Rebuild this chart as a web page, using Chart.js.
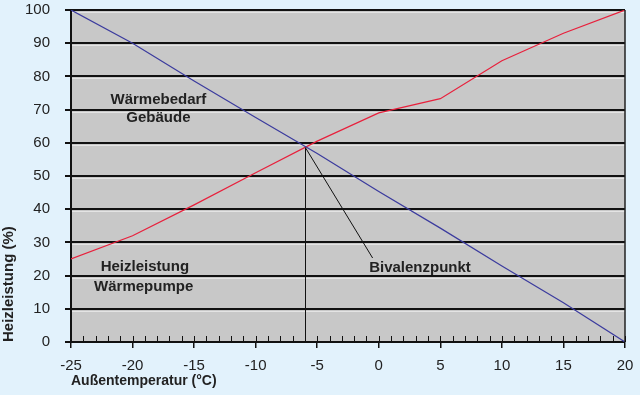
<!DOCTYPE html>
<html>
<head>
<meta charset="utf-8">
<script src="https://cdn.jsdelivr.net/npm/chart.js@4.4.0/dist/chart.umd.min.js"></script>
<style>
  html, body { margin: 0; padding: 0; background: #e2f2fc; }
  canvas { display: block; }
</style>
</head>
<body>
<canvas id="chart" width="640" height="395"></canvas>
<script>
const temperaturen = [-25, -20, -15, -10, -5, 0, 5, 10, 15, 20];
const waermebedarf = [100, 90, 78.6, 67.6, 56.8, 45.3, 34.3, 22.9, 11.8, 0];
const waermepumpe = [25, 32, 41.3, 51, 60.5, 69, 73.3, 84.7, 93, 100];
const yTicks = [0, 10, 20, 30, 40, 50, 60, 70, 80, 90, 100];

// Beschriftungen im Diagramm (Datenkoordinaten)
const beschriftungen = [
    { text: 'Wärmebedarf', x: -17.9, y: 72.9 },
    { text: 'Gebäude', x: -17.9, y: 67.4 },
    { text: 'Heizleistung', x: -19.0, y: 22.6 },
    { text: 'Wärmepumpe', x: -19.1, y: 16.6 },
    { text: 'Bivalenzpunkt', x: 3.35, y: 22.3 }
];
const bivalenzpunkt = { x: -6, y: 58.5 };
const zeigerEnde = { x: -0.5, y: 25.3 };

const FONT = '"Liberation Sans", Arial, sans-serif';

const hintergrund = {
    id: 'hintergrund',
    beforeDraw(chart) {
        const { ctx, chartArea: a } = chart;
        ctx.save();
        ctx.fillStyle = '#c8c8c8';
        ctx.fillRect(a.left, a.top, a.right - a.left, a.bottom - a.top);
        // helle Linie unter den Gitterlinien
        const y = chart.scales.y;
        ctx.strokeStyle = '#e4e4e4';
        ctx.lineWidth = 1;
        yTicks.forEach(v => {
            if (v === 0) return;
            const py = Math.round(y.getPixelForValue(v)) + 2.5;
            ctx.beginPath();
            ctx.moveTo(a.left, py);
            ctx.lineTo(a.right, py);
            ctx.stroke();
        });
        ctx.restore();
    }
};

const extras = {
    id: 'extras',
    afterDraw(chart) {
        const { ctx, chartArea: a } = chart;
        const x = chart.scales.x;
        const y = chart.scales.y;
        ctx.save();
        // rechter Rand
        ctx.strokeStyle = '#222';
        ctx.lineWidth = 1.5;
        ctx.beginPath();
        ctx.moveTo(a.right, a.top);
        ctx.lineTo(a.right, a.bottom);
        ctx.stroke();
        // kleine Striche auf der x-Achse
        ctx.strokeStyle = '#111';
        ctx.lineWidth = 1;
        for (let t = -25; t <= 20; t++) {
            const px = Math.round(x.getPixelForValue(t)) + 0.5;
            ctx.beginPath();
            ctx.moveTo(px, a.bottom);
            ctx.lineTo(px, a.bottom - 6);
            ctx.stroke();
        }
        // Bivalenzpunkt
        const bx = x.getPixelForValue(bivalenzpunkt.x);
        const by = y.getPixelForValue(bivalenzpunkt.y);
        ctx.strokeStyle = '#111';
        ctx.lineWidth = 1;
        ctx.beginPath();
        ctx.moveTo(Math.round(bx) + 0.5, a.bottom);
        ctx.lineTo(Math.round(bx) + 0.5, by);
        ctx.lineTo(x.getPixelForValue(zeigerEnde.x), y.getPixelForValue(zeigerEnde.y));
        ctx.stroke();
        // Texte
        ctx.fillStyle = '#222';
        ctx.font = 'bold 15px ' + FONT;
        ctx.textAlign = 'center';
        ctx.textBaseline = 'middle';
        beschriftungen.forEach(b => {
            ctx.fillText(b.text, x.getPixelForValue(b.x), y.getPixelForValue(b.y));
        });
        ctx.restore();
    }
};

const config = {
    type: 'line',
    data: {
        datasets: [{
            label: 'Wärmebedarf Gebäude',
            data: temperaturen.map((t, i) => ({ x: t, y: waermebedarf[i] })),
            borderColor: '#3b3b9e',
            borderWidth: 1.2,
            pointRadius: 0,
            tension: 0
        }, {
            label: 'Heizleistung Wärmepumpe',
            data: temperaturen.map((t, i) => ({ x: t, y: waermepumpe[i] })),
            borderColor: '#e8203c',
            borderWidth: 1.2,
            pointRadius: 0,
            tension: 0
        }]
    },
    options: {
        responsive: false,
        animation: false,
        layout: { padding: { top: 10, right: 15, left: 0, bottom: 0 } },
        plugins: {
            legend: { display: false },
            tooltip: { enabled: false }
        },
        scales: {
            x: {
                type: 'linear',
                min: -25,
                max: 20,
                afterFit(axis) {
                    axis.height = 53;
                    axis.paddingLeft = 0;
                    axis.paddingRight = 0;
                },
                ticks: {
                    stepSize: 5,
                    padding: 9,
                    color: '#222',
                    font: { family: FONT, size: 15 }
                },
                grid: {
                    drawOnChartArea: false,
                    color: '#111',
                    lineWidth: 1.5,
                    tickLength: 6
                },
                border: { color: '#111', width: 2 },
                title: {
                    display: true,
                    text: 'Außentemperatur (°C)',
                    align: 'start',
                    color: '#222',
                    font: { family: FONT, size: 14, weight: 'bold' },
                    padding: { top: 0, bottom: 5 }
                }
            },
            y: {
                min: 0,
                max: 100,
                afterFit(axis) {
                    axis.width = 71;
                    axis.paddingTop = 0;
                    axis.paddingBottom = 0;
                },
                ticks: {
                    stepSize: 10,
                    padding: 15,
                    color: '#222',
                    font: { family: FONT, size: 15 }
                },
                grid: {
                    color: '#111',
                    lineWidth: 2,
                    tickLength: 6
                },
                border: { color: '#111', width: 2 },
                title: {
                    display: true,
                    text: 'Heizleistung (%)',
                    align: 'start',
                    color: '#222',
                    font: { family: FONT, size: 15, weight: 'bold' },
                    padding: { top: 0, bottom: 0 }
                }
            }
        }
    },
    plugins: [hintergrund, extras]
};

const chart = new Chart(document.getElementById('chart'), config);
</script>
</body>
</html>
